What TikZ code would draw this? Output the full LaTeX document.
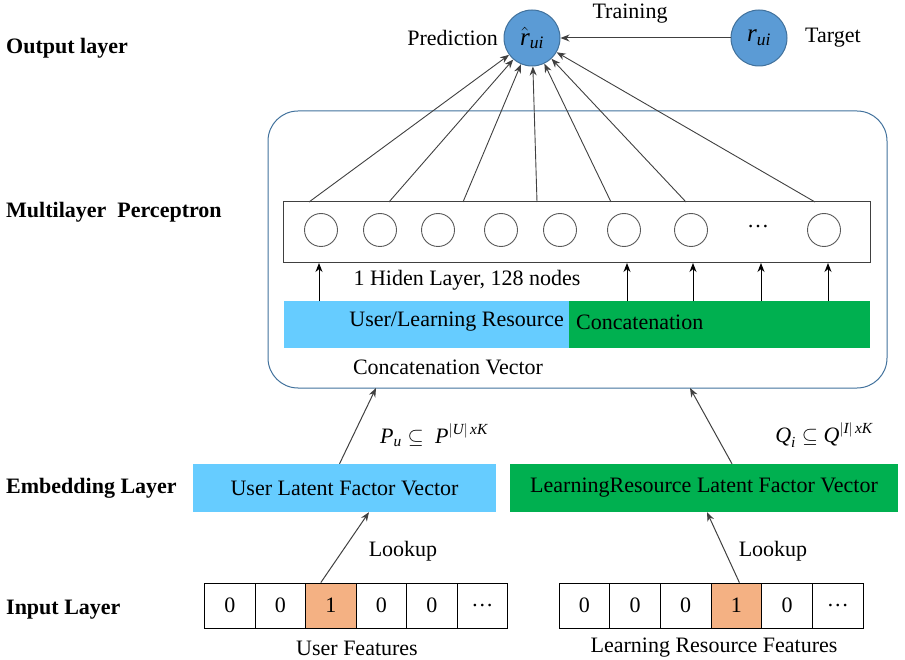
\documentclass[tikz,border=0pt]{standalone}
\usepackage{amsmath}
\usepackage{fontspec}
\setmainfont{Liberation Serif}
\usetikzlibrary{arrows.meta,calc}
\definecolor{lblue}{HTML}{66CCFF}
\definecolor{dgreen}{HTML}{00B050}
\definecolor{orng}{HTML}{F4B183}
\definecolor{cblue}{HTML}{5B9BD5}
\definecolor{cborder}{HTML}{41719C}
\definecolor{lgray}{HTML}{404040}
\definecolor{ngray}{HTML}{595959}
\begin{document}
\begin{tikzpicture}[x=1pt,y=-1pt, font=\fontsize{22}{24}\selectfont,
  tip/.style={-{Stealth[length=9pt,width=7pt]}},
  layerlbl/.style={font=\fontsize{22}{24}\selectfont\bfseries, anchor=west, inner sep=0},
  ball/.style={circle, fill=cblue, draw=cborder, line width=1pt, minimum size=56pt, inner sep=0, font=\fontsize{25}{26}\selectfont},
  neuron/.style={circle, draw=ngray, line width=0.9pt, minimum size=33pt, inner sep=0},
  cell/.style={draw=black, line width=0.8pt, minimum width=50.6pt, minimum height=45pt, inner sep=0},
  bar/.style={minimum height=46pt, inner sep=0},
  plain/.style={inner sep=0}]
\useasboundingbox (0,0) rectangle (905,660);

% layer labels
\node[layerlbl] (lo) at (6,48) {Output layer};
\node[layerlbl] (lm) at (6,212) {Multilayer\ \ Perceptron};
\node[layerlbl] (le) at (6,488) {Embedding Layer};
\node[layerlbl] (li) at (6,610) {Input Layer};

% output layer
\node[ball] (pred) at (532,38) {$\hat{\textit{r}}_{\textit{ui}}$};
\node[ball] (tgt) at (759,38) {$\textit{r}_{\textit{ui}}$};
\node[plain, anchor=east] (predl) at (498,38) {Prediction};
\node[plain, anchor=west] (tgtl) at (805,38) {Target};
\node[plain] (train) at (630,14) {Training};
\draw[lgray, line width=1pt, tip] (tgt) -- (pred);

% MLP container
\node[draw=cborder, line width=1pt, rounded corners=30pt, minimum width=619pt, minimum height=277pt, inner sep=0] (mlp) at (577.5,249.5) {};

% hidden layer box
\node[draw=lgray, line width=1pt, minimum width=587pt, minimum height=61pt, inner sep=0] (hid) at (576.5,232.5) {};
\foreach \i/\x in {1/321,2/380,3/438,4/501,5/560,6/624,7/691,9/824}
  \node[neuron] (n\i) at (\x,230) {};
\node[plain] (dots) at (758,227) {\dots};

% lines to prediction
\foreach \i/\x in {1/309,2/389,3/463,4/537,5/611,6/686,7/815}{
  \coordinate (t\i) at (\x,202);
  \draw[lgray, line width=0.9pt, tip] (t\i) -- (pred);
}

% concatenation bar
\node[bar, fill=lblue, minimum width=285pt] (cb) at (426.5,324.5) {};
\node[bar, fill=dgreen, minimum width=301pt] (cg) at (719.5,324.5) {};
\node[plain, anchor=east] (cbt) at (564,322) {User/Learning Resource};
\node[plain, anchor=west] (cgt) at (576,322) {Concatenation};
\node[plain] (hl) at (467,280) {1 Hiden Layer, 128 nodes};
\node[plain] (cv) at (448,367) {Concatenation Vector};

% arrows from bar to hidden layer
\foreach \x in {319,627,693,761,828}{
  \draw[black, line width=1pt, tip] (\x,301.5) -- (\x,263);
}

% embedding layer
\node[fill=lblue, minimum width=303pt, minimum height=48pt, inner sep=0] (ulf) at (344.5,488) {User Latent Factor Vector};
\node[fill=dgreen, minimum width=388pt, minimum height=48pt, inner sep=0] (ilf) at (704,488) {LearningResource Latent Factor Vector};
\node[plain] (pu) at (434,435) {$\textit{P}_{\textit{u}} \subseteq\; \textit{P}^{|\textit{U}|\,\textit{xK}}$};
\node[plain] (qi) at (824,435) {$\textit{Q}_{\textit{i}} \subseteq \textit{Q}^{|\textit{I}|\,\textit{xK}}$};

\coordinate (ua) at (376,388);
\coordinate (ia) at (690,388);
\draw[lgray, line width=1pt, tip] ([xshift=-5pt]ulf.north) -- (ua);
\draw[lgray, line width=1pt, tip] ([xshift=28pt]ilf.north) -- (ia);

% input layer
\foreach \k/\v/\c in {0/0/white,1/0/white,2/1/orng,3/0/white,4/0/white,5/\dots/white}
  \node[cell, fill=\c] (u\k) at ({229.8+50.5*\k},605.5) {\v};
\foreach \k/\v/\c in {0/0/white,1/0/white,2/0/white,3/1/orng,4/0/white,5/\dots/white}
  \node[cell, fill=\c] (i\k) at ({584.3+50.7*\k},605.5) {\v};
\node[plain] (uf) at (357,648) {User Features};
\node[plain] (rf) at (714,648) {Learning Resource Features};

\draw[lgray, line width=1pt, tip] ([xshift=-10pt]u2.north) -- ([xshift=24.5pt]ulf.south);
\draw[lgray, line width=1pt, tip] ([xshift=3pt]i3.north) -- ([xshift=3pt]ilf.south);
\node[plain] (lk1) at (403,551) {Lookup};
\node[plain] (lk2) at (773,551) {Lookup};
\end{tikzpicture}
\end{document}
